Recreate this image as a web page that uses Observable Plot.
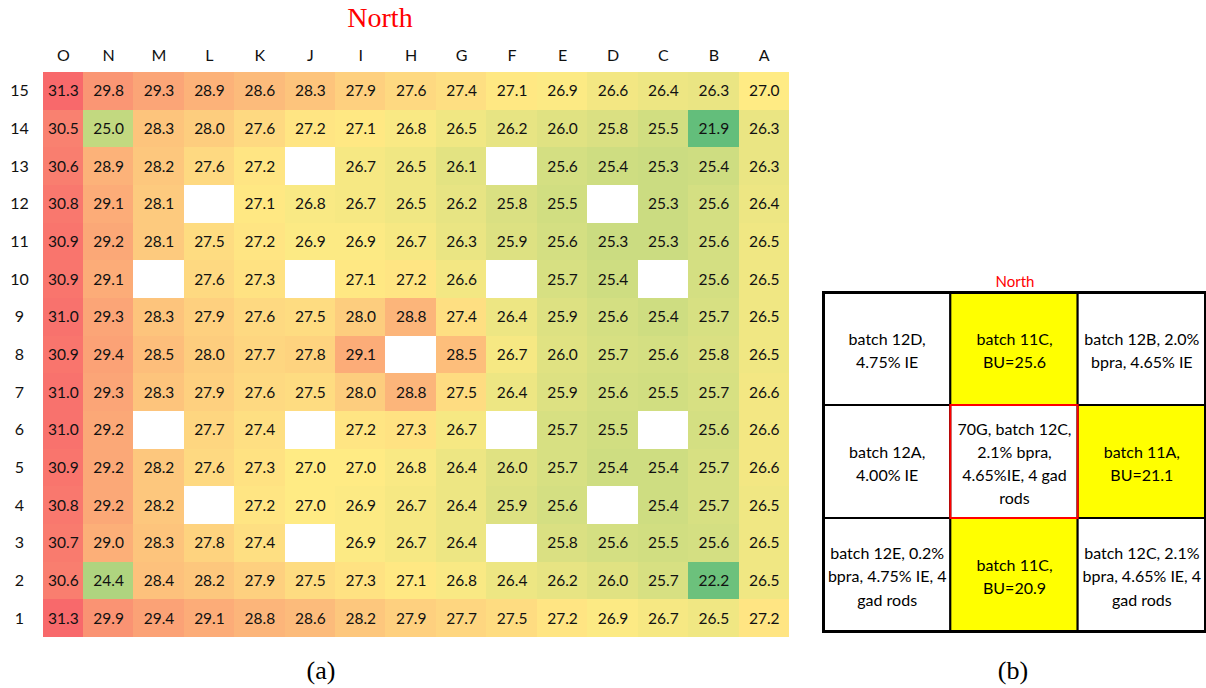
<!DOCTYPE html>
<html>
<head>
<meta charset="utf-8">
<script src="https://cdn.jsdelivr.net/npm/d3@7"></script>
<script src="https://cdn.jsdelivr.net/npm/@observablehq/plot@0.6"></script>
<style>
  html, body { margin: 0; padding: 0; background: #fff; }
  #page { position: relative; width: 1206px; height: 688px; overflow: hidden; font-family: Lato, sans-serif; }
  .abs { position: absolute; }
  .serif { font-family: "Liberation Serif", "Times New Roman", serif; }
  #north-a { left: 280px; width: 200px; top: 2px; text-align: center; color: #ff0000; font-size: 28px; line-height: 32px; }
  #cap-a { left: 271px; width: 100px; top: 656px; text-align: center; font-size: 26px; line-height: 30px; color: #000; }
  #cap-b { left: 963px; width: 100px; top: 656px; text-align: center; font-size: 26px; line-height: 30px; color: #000; }
  #north-b { left: 965px; width: 100px; top: 272px; text-align: center; color: #ff0000; font-size: 15px; line-height: 18px; }
  #heat { left: 0; top: 0; }
  #core { left: 810px; top: 290px; }
</style>
</head>
<body>
<div id="page">
  <div id="north-a" class="abs serif">North</div>
  <div id="heat" class="abs"></div>
  <div id="cap-a" class="abs serif">(a)</div>
  <div id="north-b" class="abs">North</div>
  <div id="core" class="abs"></div>
  <div id="cap-b" class="abs serif">(b)</div>
</div>
<script>
// Assembly columns (west to east as printed) and rows (top to bottom)
const columns = ["O", "N", "M", "L", "K", "J", "I", "H", "G", "F", "E", "D", "C", "B", "A"];
const rows = ["15", "14", "13", "12", "11", "10", "9", "8", "7", "6", "5", "4", "3", "2", "1"];

// Burnup per row, listed in the same column order; null = no assembly value
const row15 = [31.3, 29.8, 29.3, 28.9, 28.6, 28.3, 27.9, 27.6, 27.4, 27.1, 26.9, 26.6, 26.4, 26.3, 27.0];
const row14 = [30.5, 25.0, 28.3, 28.0, 27.6, 27.2, 27.1, 26.8, 26.5, 26.2, 26.0, 25.8, 25.5, 21.9, 26.3];
const row13 = [30.6, 28.9, 28.2, 27.6, 27.2, null, 26.7, 26.5, 26.1, null, 25.6, 25.4, 25.3, 25.4, 26.3];
const row12 = [30.8, 29.1, 28.1, null, 27.1, 26.8, 26.7, 26.5, 26.2, 25.8, 25.5, null, 25.3, 25.6, 26.4];
const row11 = [30.9, 29.2, 28.1, 27.5, 27.2, 26.9, 26.9, 26.7, 26.3, 25.9, 25.6, 25.3, 25.3, 25.6, 26.5];
const row10 = [30.9, 29.1, null, 27.6, 27.3, null, 27.1, 27.2, 26.6, null, 25.7, 25.4, null, 25.6, 26.5];
const row9  = [31.0, 29.3, 28.3, 27.9, 27.6, 27.5, 28.0, 28.8, 27.4, 26.4, 25.9, 25.6, 25.4, 25.7, 26.5];
const row8  = [30.9, 29.4, 28.5, 28.0, 27.7, 27.8, 29.1, null, 28.5, 26.7, 26.0, 25.7, 25.6, 25.8, 26.5];
const row7  = [31.0, 29.3, 28.3, 27.9, 27.6, 27.5, 28.0, 28.8, 27.5, 26.4, 25.9, 25.6, 25.5, 25.7, 26.6];
const row6  = [31.0, 29.2, null, 27.7, 27.4, null, 27.2, 27.3, 26.7, null, 25.7, 25.5, null, 25.6, 26.6];
const row5  = [30.9, 29.2, 28.2, 27.6, 27.3, 27.0, 27.0, 26.8, 26.4, 26.0, 25.7, 25.4, 25.4, 25.7, 26.6];
const row4  = [30.8, 29.2, 28.2, null, 27.2, 27.0, 26.9, 26.7, 26.4, 25.9, 25.6, null, 25.4, 25.7, 26.5];
const row3  = [30.7, 29.0, 28.3, 27.8, 27.4, null, 26.9, 26.7, 26.4, null, 25.8, 25.6, 25.5, 25.6, 26.5];
const row2  = [30.6, 24.4, 28.4, 28.2, 27.9, 27.5, 27.3, 27.1, 26.8, 26.4, 26.2, 26.0, 25.7, 22.2, 26.5];
const row1  = [31.3, 29.9, 29.4, 29.1, 28.8, 28.6, 28.2, 27.9, 27.7, 27.5, 27.2, 26.9, 26.7, 26.5, 27.2];

const rowValues = [row15, row14, row13, row12, row11, row10, row9, row8, row7, row6, row5, row4, row3, row2, row1];

// Neighbourhood of assembly 70G (3x3, read left-to-right, top-to-bottom)
const coreLabels = [
  "batch 12D,\n4.75% IE", "batch 11C,\nBU=25.6", "batch 12B, 2.0%\nbpra, 4.65% IE",
  "batch 12A,\n4.00% IE", "70G, batch 12C,\n2.1% bpra,\n4.65%IE, 4 gad\nrods", "batch 11A,\nBU=21.1",
  "batch 12E, 0.2%\nbpra, 4.75% IE, 4\ngad rods", "batch 11C,\nBU=20.9", "batch 12C, 2.1%\nbpra, 4.65% IE, 4\ngad rods"
];
const coreHighlighted = [false, true, false, false, false, true, false, true, false];
const coreFocus = [false, false, false, false, true, false, false, false, false];

// Column extents in "column units": the first (O) column is printed narrower than the rest
const firstColumnShare = 0.79;
const colStart = j => (j === 0 ? 1 - firstColumnShare : j);
const colEnd = j => j + 1;
const colMid = j => (colStart(j) + colEnd(j)) / 2;

// Long-format table for the heatmap
const cells = [];
rows.forEach((r, i) => columns.forEach((c, j) => {
  const v = rowValues[i][j];
  if (v != null) cells.push({row: r, col: c, j, value: v});
}));
const vals = cells.map(d => d.value);
const vMin = d3.min(vals), vMid = d3.median(vals), vMax = d3.max(vals);
const columnTicks = columns.map((c, j) => ({col: c, j}));

const heat = Plot.plot({
  width: 800,
  height: 645,
  marginLeft: 43,
  marginRight: 11,
  marginTop: 72,
  marginBottom: 8,
  style: {fontFamily: "Lato, sans-serif", fontSize: "16px", color: "#111", background: "transparent"},
  x: {type: "linear", domain: [colStart(0), columns.length], axis: null},
  y: {domain: rows, padding: 0, round: false, axis: null},
  color: {type: "linear", domain: [vMin, vMid, vMax], range: ["#63BE7B", "#FFEB84", "#F8696B"], interpolate: "rgb"},
  marks: [
    Plot.barX(cells, {x1: d => colStart(d.j), x2: d => colEnd(d.j), y: "row", fill: "value", inset: 0, shapeRendering: "crispEdges"}),
    Plot.text(cells, {x: d => colMid(d.j), y: "row", text: d => d.value.toFixed(1), fontSize: 15.5, fill: "#111"}),
    Plot.text(columnTicks, {x: d => colMid(d.j), frameAnchor: "top", lineAnchor: "middle", dy: -17, text: "col", fontSize: 16, fill: "#111"}),
    Plot.axisY({anchor: "left", tickSize: 0, tickPadding: 24, textAnchor: "middle", label: null, fontSize: 16, fill: "#111"})
  ]
});
document.getElementById("heat").append(heat);

// 3x3 layout of the neighbouring assemblies
const core = coreLabels.map((label, i) => ({
  col: i % 3, row: Math.floor(i / 3), label,
  fill: coreHighlighted[i] ? "#FFFF00" : "#FFFFFF",
  focus: coreFocus[i]
}));

const corePlot = Plot.plot({
  width: 396,
  height: 345,
  marginLeft: 13,
  marginRight: 1,
  marginTop: 2,
  marginBottom: 4,
  style: {fontFamily: "Lato, sans-serif", fontSize: "16px", color: "#000", background: "transparent", overflow: "visible"},
  x: {domain: [0, 1, 2], type: "band", padding: 0, round: false, axis: null},
  y: {domain: [0, 1, 2], type: "band", padding: 0, round: false, axis: null},
  color: {type: "identity"},
  marks: [
    Plot.cell(core, {x: "col", y: "row", fill: "fill", stroke: "#000", strokeWidth: 2, inset: 0}),
    Plot.cell(core.filter(d => d.focus), {x: "col", y: "row", fill: "none", stroke: "#FF0000", strokeWidth: 2, inset: 0}),
    Plot.frame({stroke: "#000", strokeWidth: 3}),
    Plot.text(core, {x: "col", y: "row", text: "label", fontSize: 16, lineHeight: 1.45, fill: "#000"})
  ]
});
document.getElementById("core").append(corePlot);
</script>
</body>
</html>
